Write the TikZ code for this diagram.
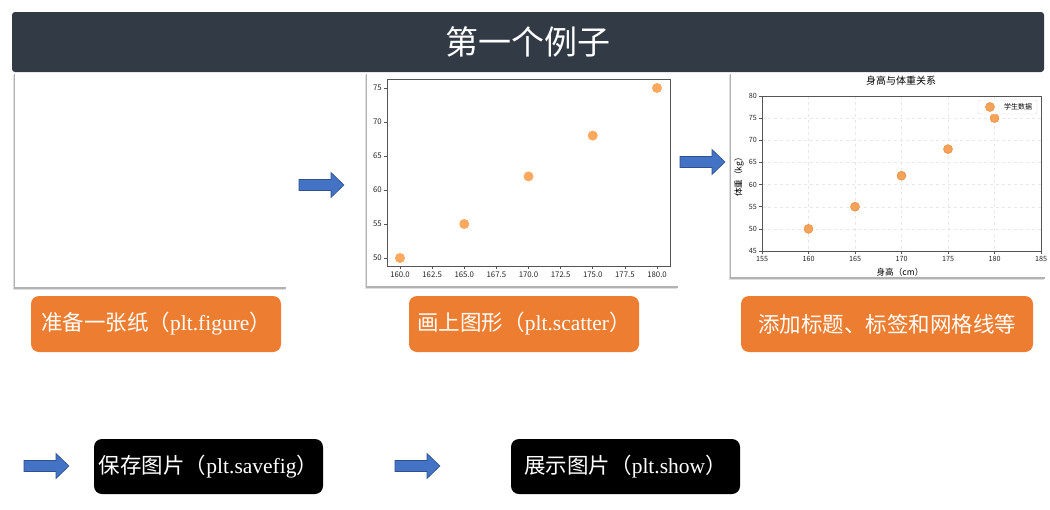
\documentclass[tikz,border=0pt]{standalone}
\usepackage{fontspec}
\setmainfont{Liberation Serif}
\newfontfamily\cjk{Noto Sans CJK SC}
\definecolor{titlebg}{HTML}{323A45}
\definecolor{btnorange}{HTML}{ED7D31}
\definecolor{arrowfill}{HTML}{4472C4}
\definecolor{arrowline}{HTML}{2F528F}
\definecolor{dotA}{HTML}{FFA85E}
\definecolor{dotB}{HTML}{F6A35A}
\definecolor{dotBedge}{HTML}{E98B3C}
\definecolor{axisgray}{HTML}{555555}
\newcommand\blockarrow[2]{\filldraw[arr] (#1,#2) ++(0,-5.5) -- ++(32,0) -- ++(0,-7) -- ++(13,12.5) -- ++(-13,12.5) -- ++(0,-7) -- ++(-32,0) -- cycle;}
\newcommand\panelbox[4]{%
  \fill[gray!25] (#1-2.5,#2+2.5) rectangle (#3-2.5,#4+2.5);
  \fill[gray!60] (#1-1.5,#2+1.5) rectangle (#3-1.5,#4+1.5);
  \fill[white] (#1,#2) rectangle (#3,#4);}
\begin{document}
\begin{tikzpicture}[x=1pt,y=-1pt,
  btn/.style={rounded corners=8pt, fill=btnorange, text=white, inner sep=0pt,
    minimum height=56pt, font=\fontsize{21.5}{24}\selectfont},
  blk/.style={rounded corners=8pt, fill=black, text=white, inner sep=0pt,
    minimum height=55pt, font=\fontsize{21.5}{24}\selectfont},
  arr/.style={fill=arrowfill, draw=arrowline, line width=0.6pt},
  tickA/.style={font=\cjk\fontsize{7.8}{8}\selectfont, text=black!85, inner sep=0pt},
  tickB/.style={font=\cjk\fontsize{7.2}{8}\selectfont, text=black!85, inner sep=0pt},
  gridl/.style={gray!18, dashed, line width=0.4pt},
]
\useasboundingbox (0,0) rectangle (1050,509);
\fill[white] (0,0) rectangle (1050,509);

% panels
\panelbox{15}{72}{287}{287}
\panelbox{367}{72}{679}{286}
\panelbox{731}{72}{1046}{277}

% title bar
\fill[titlebg, rounded corners=3pt] (12,12) rectangle (1044,72);
\node[text=white, font=\cjk\fontsize{33}{36}\selectfont] (title) at (528,42) {第一个例子};

% ---- panel 2 plot ----
\draw[axisgray, line width=0.8pt] (387,79) rectangle (670,266);
\foreach \v/\l in {0/160.0,1/162.5,2/165.0,3/167.5,4/170.0,5/172.5,6/175.0,7/177.5,8/180.0}{
  \draw[axisgray, line width=0.6pt] ({400+\v*32.125},266) -- ({400+\v*32.125},269);
  \node[tickA] at ({400+\v*32.125},275) {\l};
}
\foreach \v in {50,55,60,65,70,75}{
  \draw[axisgray, line width=0.6pt] (384,{258-(\v-50)*6.8}) -- (387,{258-(\v-50)*6.8});
  \node[tickA, anchor=east] at (382,{258-(\v-50)*6.8}) {\v};
}
\foreach \a/\b in {160/50,165/55,170/62,175/68,180/75}{
  \fill[dotA] ({400+(\a-160)*12.85},{258-(\b-50)*6.8}) circle (5pt);
}

% ---- panel 3 plot ----
\foreach \v in {160,165,170,175,180}{
  \draw[gridl] ({762+(\v-155)*9.3},96) -- ({762+(\v-155)*9.3},251);
}
\foreach \v in {50,55,60,65,70,75}{
  \draw[gridl] (762,{251-(\v-45)*4.4286}) -- (1041,{251-(\v-45)*4.4286});
}
\draw[axisgray, line width=0.8pt] (762,96) rectangle (1041,251);
\foreach \v in {155,160,165,170,175,180,185}{
  \draw[axisgray, line width=0.6pt] ({762+(\v-155)*9.3},251) -- ({762+(\v-155)*9.3},254);
  \node[tickB] at ({762+(\v-155)*9.3},259) {\v};
}
\foreach \v in {45,50,55,60,65,70,75,80}{
  \draw[axisgray, line width=0.6pt] (759,{251-(\v-45)*4.4286}) -- (762,{251-(\v-45)*4.4286});
  \node[tickB, anchor=east] at (757,{251-(\v-45)*4.4286}) {\v};
}
\foreach \a/\b in {160/50,165/55,170/62,175/68,180/75}{
  \filldraw[fill=dotB, draw=dotBedge, line width=0.5pt] ({762+(\a-155)*9.3},{251-(\b-45)*4.4286}) circle (4.5pt);
}
\node[font=\cjk\fontsize{10}{11}\selectfont, inner sep=0pt] (ptitle) at (901,81) {身高与体重关系};
\node[font=\cjk\fontsize{8.6}{9}\selectfont, inner sep=0pt] (xlab) at (900,272) {身高（cm）};
\node[font=\cjk\fontsize{8.6}{9}\selectfont, inner sep=0pt, rotate=90] (ylab) at (739,175) {体重（kg）};
\draw[gray!25, fill=white, rounded corners=1.5pt] (978,100) rectangle (1037,114);
\filldraw[fill=dotB, draw=dotBedge, line width=0.5pt] (990,107) circle (4.5pt);
\node[font=\cjk\fontsize{7}{8}\selectfont, inner sep=0pt] (leg) at (1018,107) {学生数据};

% arrows
\blockarrow{299}{185}
\blockarrow{680}{162}
\blockarrow{24}{466}
\blockarrow{395}{466}

% orange buttons
\node[btn, minimum width=250pt] (b1) at (156,324) {{\cjk 准备一张纸（}plt.figure{\cjk ）}};
\node[btn, minimum width=230pt] (b2) at (524,324) {{\cjk 画上图形（}plt.scatter{\cjk ）}};
\node[btn, minimum width=292pt] (b3) at (887,324) {\cjk 添加标题、标签和网格线等};

% black buttons
\node[blk, minimum width=229pt] (b4) at (208.5,466.5) {{\cjk 保存图片（}plt.savefig{\cjk ）}};
\node[blk, minimum width=229pt] (b5) at (625.5,466.5) {{\cjk 展示图片（}plt.show{\cjk ）}};
\end{tikzpicture}
\end{document}
